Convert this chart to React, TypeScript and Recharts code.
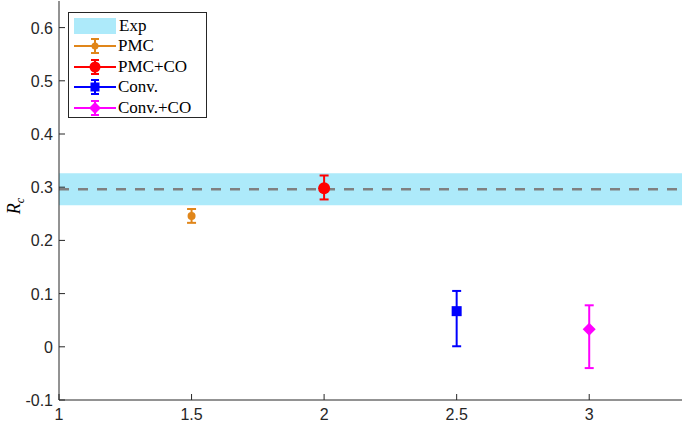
import React from 'react';
import {
  ComposedChart,
  Scatter,
  ErrorBar,
  XAxis,
  YAxis,
  ReferenceArea,
  ReferenceLine,
} from 'recharts';

const xTicks = [1, 1.5, 2, 2.5, 3];
const yTicks = [-0.1, 0, 0.1, 0.2, 0.3, 0.4, 0.5, 0.6];

// experiment band (mean and range)
const expMean = 0.296;
const expLow = 0.266;
const expHigh = 0.326;

const pmc = [{ x: 1.5, y: 0.246, err: [0.013, 0.013] }];
const pmcCo = [{ x: 2, y: 0.298, err: [0.021, 0.024] }];
const conv = [{ x: 2.5, y: 0.067, err: [0.066, 0.038] }];
const convCo = [{ x: 3, y: 0.033, err: [0.073, 0.045] }];

const AXIS = '#262626';
const FONT = '"Liberation Sans", Arial, sans-serif';
const SERIF = '"Liberation Serif", "Times New Roman", serif';

const COLORS = {
  exp: '#ADEAFA',
  pmc: '#E0861A',
  pmcCo: '#FF0000',
  conv: '#0000FF',
  convCo: '#FF00FF',
};

const circle = (r: number, color: string) => (props: any) =>
  <circle cx={props.cx} cy={props.cy} r={r} fill={color} />;

const square = (s: number, color: string) => (props: any) =>
  <rect x={props.cx - s / 2} y={props.cy - s / 2} width={s} height={s} fill={color} />;

const diamond = (h: number, color: string) => (props: any) => (
  <polygon
    points={`${props.cx},${props.cy - h} ${props.cx + h},${props.cy} ${props.cx},${props.cy + h} ${props.cx - h},${props.cy}`}
    fill={color}
  />
);

function BottomTick(props: any) {
  const { x, y, payload } = props;
  const ay = y - 8;
  return (
    <g>
      <line x1={x} x2={x} y1={ay} y2={ay - 6} stroke={AXIS} strokeWidth={1} />
      <text x={x} y={y} dy={12} textAnchor="middle" fill={AXIS} fontFamily={FONT} fontSize={16}>
        {payload.value}
      </text>
    </g>
  );
}

function LeftTick(props: any) {
  const { x, y, payload } = props;
  const ax = x + 6;
  return (
    <g>
      <line x1={ax} x2={ax + 6} y1={y} y2={y} stroke={AXIS} strokeWidth={1} />
      <text x={x} y={y} dy={6} textAnchor="end" fill={AXIS} fontFamily={FONT} fontSize={16}>
        {payload.value}
      </text>
    </g>
  );
}

function TopTick(props: any) {
  const { x, y } = props;
  return <line x1={x} x2={x} y1={y} y2={y + 6} stroke={AXIS} strokeWidth={1} />;
}

function RightTick(props: any) {
  const { x, y } = props;
  return <line x1={x} x2={x - 6} y1={y} y2={y} stroke={AXIS} strokeWidth={1} />;
}

function LegendIcon({ color, marker }: { color: string; marker: React.ReactNode }) {
  return (
    <svg width={44} height={18} style={{ display: 'block' }}>
      <line x1={1} x2={43} y1={9} y2={9} stroke={color} strokeWidth={2} />
      <line x1={22} x2={22} y1={2} y2={16} stroke={color} strokeWidth={2} />
      <line x1={18} x2={26} y1={2} y2={2} stroke={color} strokeWidth={2} />
      <line x1={18} x2={26} y1={16} y2={16} stroke={color} strokeWidth={2} />
      {marker}
    </svg>
  );
}

const legendItems = [
  { name: 'PMC', color: COLORS.pmc, marker: <circle cx={22} cy={9} r={3.5} fill={COLORS.pmc} /> },
  { name: 'PMC+CO', color: COLORS.pmcCo, marker: <circle cx={22} cy={9} r={5.5} fill={COLORS.pmcCo} /> },
  { name: 'Conv.', color: COLORS.conv, marker: <rect x={17.5} y={4.5} width={9} height={9} fill={COLORS.conv} /> },
  {
    name: 'Conv.+CO',
    color: COLORS.convCo,
    marker: <polygon points="22,3 28,9 22,15 16,9" fill={COLORS.convCo} />,
  },
];

function ChartLegend() {
  return (
    <div
      style={{
        position: 'absolute',
        left: 68,
        top: 12,
        width: 137,
        height: 104,
        border: `1px solid ${AXIS}`,
        background: '#fff',
        fontFamily: SERIF,
        fontSize: 17,
        color: '#000',
        boxSizing: 'content-box',
      }}
    >
      <div style={{ position: 'absolute', left: 5, top: 4, display: 'flex', alignItems: 'center', height: 18 }}>
        <div style={{ width: 42, height: 16, background: COLORS.exp, marginRight: 3 }} />
        <span>Exp</span>
      </div>
      {legendItems.map((it, i) => (
        <div
          key={it.name}
          style={{
            position: 'absolute',
            left: 4,
            top: 24 + i * 20.5,
            display: 'flex',
            alignItems: 'center',
            height: 18,
          }}
        >
          <LegendIcon color={it.color} marker={it.marker} />
          <span style={{ marginLeft: 1 }}>{it.name}</span>
        </div>
      ))}
    </div>
  );
}

export default function App() {
  return (
    <div style={{ position: 'absolute', left: 0, top: 0, width: 685, height: 426, background: '#fff' }}>
      <ComposedChart width={685} height={426} margin={{ top: 1, right: 3, bottom: 0, left: 0 }}>
        <XAxis
          xAxisId="b"
          type="number"
          dataKey="x"
          domain={[1, 3.35]}
          ticks={xTicks}
          allowDataOverflow
          height={26}
          tickSize={0}
          tickMargin={8}
          stroke={AXIS}
          tick={<BottomTick />}
        />
        <XAxis
          xAxisId="t"
          orientation="top"
          type="number"
          dataKey="x"
          domain={[1, 3.35]}
          ticks={xTicks}
          allowDataOverflow
          height={0}
          tickSize={0}
          tickMargin={0}
          stroke={AXIS}
          tick={<TopTick />}
        />
        <YAxis
          yAxisId="l"
          type="number"
          domain={[-0.1, 0.65]}
          ticks={yTicks}
          allowDataOverflow
          width={59}
          tickSize={0}
          tickMargin={6}
          stroke={AXIS}
          tick={<LeftTick />}
          label={{
            content: () => (
              <text
                x={20}
                y={206}
                transform="rotate(-90 20 206)"
                textAnchor="middle"
                fontFamily={SERIF}
                fontSize={18}
                fontStyle="italic"
                fill="#000"
              >
                R<tspan fontSize={12} dy={4}>c</tspan>
              </text>
            ),
          }}
        />
        <YAxis
          yAxisId="r"
          orientation="right"
          type="number"
          domain={[-0.1, 0.65]}
          ticks={yTicks}
          allowDataOverflow
          width={0}
          tickSize={0}
          tickMargin={0}
          stroke={AXIS}
          tick={<RightTick />}
        />
        <ReferenceArea
          xAxisId="b"
          yAxisId="l"
          y1={expLow}
          y2={expHigh}
          fill={COLORS.exp}
          fillOpacity={1}
          stroke="none"
          ifOverflow="hidden"
        />
        <ReferenceLine
          xAxisId="b"
          yAxisId="l"
          y={expMean}
          stroke="#808080"
          strokeWidth={2.5}
          strokeDasharray="10 9"
        />
        <Scatter xAxisId="b" yAxisId="l" data={pmc} dataKey="y" shape={circle(4, COLORS.pmc)} isAnimationActive={false}>
          <ErrorBar dataKey="err" direction="y" width={4.5} stroke={COLORS.pmc} strokeWidth={2} isAnimationActive={false} />
        </Scatter>
        <Scatter xAxisId="b" yAxisId="l" data={pmcCo} dataKey="y" shape={circle(6, COLORS.pmcCo)} isAnimationActive={false}>
          <ErrorBar dataKey="err" direction="y" width={4.5} stroke={COLORS.pmcCo} strokeWidth={2} isAnimationActive={false} />
        </Scatter>
        <Scatter xAxisId="b" yAxisId="l" data={conv} dataKey="y" shape={square(10, COLORS.conv)} isAnimationActive={false}>
          <ErrorBar dataKey="err" direction="y" width={4.5} stroke={COLORS.conv} strokeWidth={2} isAnimationActive={false} />
        </Scatter>
        <Scatter xAxisId="b" yAxisId="l" data={convCo} dataKey="y" shape={diamond(6.5, COLORS.convCo)} isAnimationActive={false}>
          <ErrorBar dataKey="err" direction="y" width={4.5} stroke={COLORS.convCo} strokeWidth={2} isAnimationActive={false} />
        </Scatter>
      </ComposedChart>
      <ChartLegend />
    </div>
  );
}
